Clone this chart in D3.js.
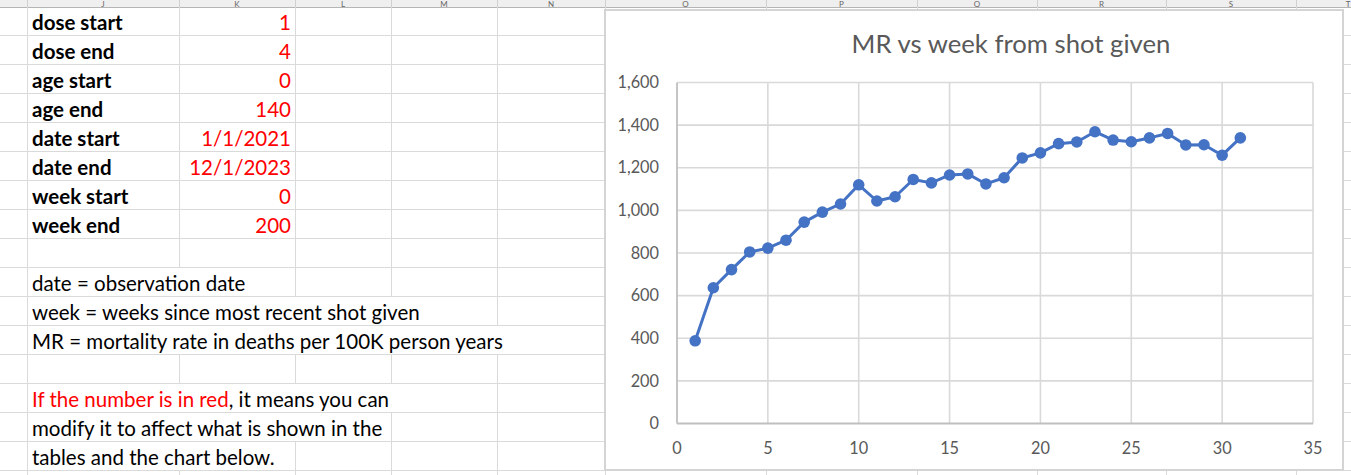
<!DOCTYPE html>
<html><head><meta charset="utf-8">
<script src="https://cdn.jsdelivr.net/npm/d3@7"></script>
<style>body{margin:0;background:#fff;overflow:hidden} svg{display:block}</style>
</head><body><svg id="c" width="1351" height="475"></svg>
<script>
// ---- data ----
const weeks = [1,2,3,4,5,6,7,8,9,10,11,12,13,14,15,16,17,18,19,20,21,22,23,24,25,26,27,28,29,30,31];
const mr = [388,637,722,805,823,860,945,992,1030,1120,1044,1064,1145,1129,1166,1171,1124,1153,1246,1270,1313,1321,1369,1330,1322,1340,1361,1307,1308,1259,1340];
const xTicks = [0,5,10,15,20,25,30,35];
const yTicks = [0,200,400,600,800,1000,1200,1400,1600];
const chartTitle = "MR vs week from shot given";
const paramLabels = ["dose start","dose end","age start","age end","date start","date end","week start","week end"];
const paramValues = ["1","4","0","140","1/1/2021","12/1/2023","0","200"];
const notes = ["date = observation date","week = weeks since most recent shot given","MR = mortality rate in deaths per 100K person years"];
const redNote = ["If the number is in red", ", it means you can"];
const moreNotes = ["modify it to affect what is shown in the","tables and the chart below."];
const colLetters = ["J","K","L","M","N","O","P","Q","R","S","T"];

// ---- layout ----
const W = 1351, H = 475;
const svg = d3.select("#c");
const FONT = "Lato, 'Open Sans', sans-serif";
const headerH = 7, rowH = 29;
const colEdges = [27,179,295,391,497,605,766,917,1037,1166,1296,1400];
const rowTop = i => headerH + rowH * i;
const nRows = 17;
const SHEET_FS = 20.5;

// header
const hdr = svg.append("g");
hdr.append("rect").attr("x",0).attr("y",0).attr("width",W).attr("height",headerH).attr("fill","#efefef");
colEdges.forEach(x => hdr.append("line").attr("x1",x+0.5).attr("x2",x+0.5).attr("y1",0).attr("y2",headerH).attr("stroke","#d0d0d0"));
colLetters.forEach((l,i) => {
  hdr.append("text").attr("x",(colEdges[i]+colEdges[i+1])/2).attr("y",6.5)
    .attr("text-anchor","middle").attr("font-family",FONT).attr("font-size",8).attr("fill","#666").text(l);
});
hdr.append("line").attr("x1",0).attr("x2",W).attr("y1",headerH+0.5).attr("y2",headerH+0.5).attr("stroke","#b5b5b5");

// sheet text
const gridG = svg.append("g");
const textG = svg.append("g").attr("font-family",FONT).attr("font-size",SHEET_FS);
const rowTextEnd = {};
paramLabels.forEach((t,i) => {
  textG.append("text").attr("x",32).attr("y",rowTop(i)+22.5).attr("font-weight","bold").attr("fill","#000").text(t);
  textG.append("text").attr("x",291).attr("y",rowTop(i)+22.5).attr("text-anchor","end").attr("fill","#ff0000").text(paramValues[i]);
});
notes.forEach((t,i) => {
  const r = 9+i;
  const tx = textG.append("text").attr("x",32).attr("y",rowTop(r)+22.5).attr("fill","#000").text(t);
  rowTextEnd[r] = 32 + tx.node().getComputedTextLength();
});
{
  const r = 13;
  const tx = textG.append("text").attr("x",32).attr("y",rowTop(r)+22.5);
  tx.append("tspan").attr("fill","#ff0000").text(redNote[0]);
  tx.append("tspan").attr("fill","#000").text(redNote[1]);
  rowTextEnd[r] = 32 + tx.node().getComputedTextLength();
}
moreNotes.forEach((t,i) => {
  const r = 14+i;
  const tx = textG.append("text").attr("x",32).attr("y",rowTop(r)+22.5).attr("fill","#000").text(t);
  rowTextEnd[r] = 32 + tx.node().getComputedTextLength();
});

// grid lines
for (let r = 1; r <= nRows; r++) {
  gridG.append("line").attr("x1",0).attr("x2",W).attr("y1",rowTop(r)-0.5).attr("y2",rowTop(r)-0.5).attr("stroke","#dadada");
}
for (let r = 0; r < nRows; r++) {
  colEdges.forEach(x => {
    if (rowTextEnd[r] !== undefined && x > 32 && x < rowTextEnd[r] + 3) return;
    gridG.append("line").attr("x1",x+0.5).attr("x2",x+0.5).attr("y1",rowTop(r)).attr("y2",rowTop(r)+rowH).attr("stroke","#dadada");
  });
}

// chart box
const box = {x:605, y:10, w:738, h:460};
const cg = svg.append("g");
cg.append("rect").attr("x",box.x).attr("y",box.y).attr("width",box.w).attr("height",box.h)
  .attr("fill","#fff").attr("stroke","#d4d4d4").attr("stroke-width",2);

const x = d3.scaleLinear().domain([0,35]).range([677,1313]);
const y = d3.scaleLinear().domain([0,1600]).range([423.5,82.5]);

// gridlines
cg.append("g").selectAll("line").data(yTicks.filter(v=>v>0)).join("line")
  .attr("x1",x(0)).attr("x2",x(35)).attr("y1",d=>y(d)).attr("y2",d=>y(d))
  .attr("stroke","#d9d9d9").attr("stroke-width",1.6);
cg.append("g").selectAll("line").data(xTicks.filter(v=>v>0)).join("line")
  .attr("x1",d=>x(d)).attr("x2",d=>x(d)).attr("y1",y(0)).attr("y2",y(1600))
  .attr("stroke","#d9d9d9").attr("stroke-width",1.6);
// axis lines
cg.append("line").attr("x1",x(0)).attr("x2",x(35)).attr("y1",y(0)).attr("y2",y(0)).attr("stroke","#bfbfbf").attr("stroke-width",1.8);
cg.append("line").attr("x1",x(0)).attr("x2",x(0)).attr("y1",y(0)).attr("y2",y(1600)).attr("stroke","#bfbfbf").attr("stroke-width",1.8);

// tick labels
const fmt = d3.format(",");
cg.append("g").selectAll("text").data(yTicks).join("text")
  .attr("x",659).attr("y",d=>y(d)).attr("dy","0.35em").attr("text-anchor","end")
  .attr("font-family",FONT).attr("font-size",16.3).attr("fill","#595959").text(d=>fmt(d));
cg.append("g").selectAll("text").data(xTicks).join("text")
  .attr("x",d=>x(d)).attr("y",448).attr("dy","0.35em").attr("text-anchor","middle")
  .attr("font-family",FONT).attr("font-size",16.3).attr("fill","#595959").text(d=>d);

// title
cg.append("text").attr("x",1011).attr("y",53).attr("text-anchor","middle")
  .attr("font-family",FONT).attr("font-size",25.7).attr("fill","#595959").text(chartTitle);

// series
const pts = weeks.map((w,i)=>[w,mr[i]]);
cg.append("path").datum(pts).attr("fill","none").attr("stroke","#4472c4").attr("stroke-width",3)
  .attr("stroke-linejoin","round").attr("d",d3.line().x(d=>x(d[0])).y(d=>y(d[1])));
cg.append("g").selectAll("circle").data(pts).join("circle")
  .attr("cx",d=>x(d[0])).attr("cy",d=>y(d[1])).attr("r",5.8).attr("fill","#4472c4");
</script></body></html>
